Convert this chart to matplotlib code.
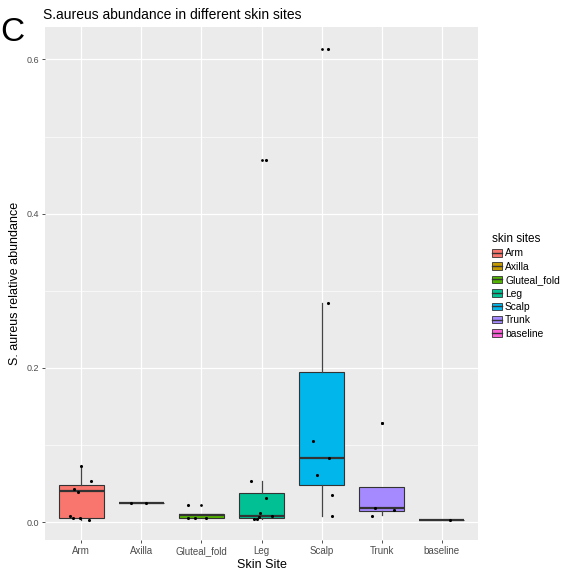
import numpy as np
import matplotlib
matplotlib.use("Agg")
import matplotlib.pyplot as plt
from matplotlib.patches import Patch
from matplotlib.lines import Line2D

plt.rcParams["font.family"] = ["Liberation Sans", "DejaVu Sans"]

################################################################################
# Data
################################################################################

a_sites = ["Arm", "Axilla", "Gluteal_fold", "Leg", "Scalp", "Trunk", "baseline"]
a_colors = ["#F8766D", "#C49A00", "#53B400", "#00C094", "#00B6EB", "#A58AFF", "#FB61D7"]

# box statistics per site
a_q1      = [0.006, 0.025, 0.005, 0.005, 0.048, 0.014, 0.003]
a_median  = [0.040, 0.025, 0.009, 0.008, 0.0835, 0.018, 0.003]
a_q3      = [0.048, 0.025, 0.011, 0.038, 0.195, 0.046, 0.003]
a_whislo  = [0.0025, 0.025, 0.005, 0.004, 0.008, 0.0087, 0.003]
a_whishi  = [0.073, 0.025, 0.011, 0.053, 0.284, 0.046, 0.003]
a_outliers = [[], [], [0.0225], [0.470], [0.613], [0.128], []]

# jittered sample points (value, horizontal jitter in category units)
a_points = [
    [0.073, 0.054, 0.043, 0.039, 0.008, 0.005, 0.005, 0.0025],
    [0.025, 0.025],
    [0.0225, 0.006, 0.006, 0.006],
    [0.470, 0.053, 0.032, 0.012, 0.0074, 0.007, 0.0044, 0.004],
    [0.613, 0.284, 0.105, 0.0835, 0.061, 0.035, 0.008],
    [0.128, 0.018, 0.016, 0.008],
    [0.003],
]
a_jitter = [
    [0.0, 0.17, -0.12, -0.05, -0.18, -0.13, -0.02, 0.13],
    [-0.17, 0.08],
    [-0.22, -0.22, -0.10, 0.08],
    [0.07, -0.18, 0.08, -0.03, 0.17, -0.05, -0.13, -0.08],
    [0.10, 0.10, -0.15, 0.12, -0.08, 0.18, 0.18],
    [0.0, -0.12, 0.20, -0.17],
    [0.13],
]

################################################################################
# Plotting
################################################################################

fig = plt.figure(figsize=(5.63, 5.75), dpi=100)
ax = fig.add_axes([0.080, 0.061, 0.769, 0.892])
ax.set_facecolor("#EBEBEB")

a_pos = np.arange(1, len(a_sites) + 1)

stats = []
for i, site in enumerate(a_sites):
    stats.append({"label": site, "q1": a_q1[i], "med": a_median[i], "q3": a_q3[i],
                  "whislo": a_whislo[i], "whishi": a_whishi[i], "fliers": a_outliers[i]})

bp = ax.bxp(stats, positions=a_pos, widths=0.75, patch_artist=True, showcaps=False,
            boxprops=dict(edgecolor="#333333", linewidth=0.8),
            medianprops=dict(color="#333333", linewidth=1.6),
            whiskerprops=dict(color="#444444", linewidth=0.9),
            flierprops=dict(marker="o", markersize=2.0, markerfacecolor="black",
                            markeredgecolor="black", markeredgewidth=0, linestyle="none"),
            zorder=3)
for patch, col in zip(bp["boxes"], a_colors):
    patch.set_facecolor(col)

for i in range(len(a_sites)):
    ax.scatter(a_pos[i] + np.array(a_jitter[i]), a_points[i], s=5, color="black", zorder=4,
               linewidths=0)

ax.set_xlim(0.4, 7.6)
ax.set_ylim(-0.023, 0.642)
ax.set_xticks(a_pos)
ax.set_xticklabels(a_sites)
ax.set_yticks([0.0, 0.2, 0.4, 0.6])
ax.set_yticklabels(["0.0", "0.2", "0.4", "0.6"])
ax.set_yticks([0.1, 0.3, 0.5], minor=True)
ax.tick_params(axis="both", which="major", length=2.5, width=0.6, color="#333333",
               labelcolor="#4D4D4D", labelsize=7, pad=2)
ax.tick_params(axis="y", labelsize=6.5)
ax.tick_params(axis="y", which="minor", length=0)
ax.grid(True, which="major", color="white", linewidth=0.9)
ax.grid(True, which="minor", axis="y", color="white", linewidth=0.45)
ax.set_axisbelow(True)
for s in ax.spines.values():
    s.set_visible(False)

ax.set_xlabel("Skin Site", fontsize=9, labelpad=2)
ax.set_ylabel("S. aureus relative abundance", fontsize=9, labelpad=4)

fig.text(0.076, 0.974, "S.aureus abundance in different skin sites", fontsize=10,
         va="center", ha="left")
fig.text(0.0, 0.944, "C", fontsize=24, va="center", ha="left")

# legend keys look like small boxplots: filled box with a median line
handles = [(Patch(facecolor=c, edgecolor="#333333", linewidth=0.6),
            Line2D([], [], color="#333333", linewidth=1.0)) for c in a_colors]
leg = fig.legend(handles, a_sites, title="skin sites", loc="upper left",
                 bbox_to_anchor=(0.866, 0.602), frameon=False, fontsize=7.4,
                 title_fontsize=8.5, handlelength=1.0, handleheight=0.75,
                 handletextpad=0.3, labelspacing=0.33, borderaxespad=0)
leg._legend_box.align = "left"

fig.savefig("out.png", dpi=100)
